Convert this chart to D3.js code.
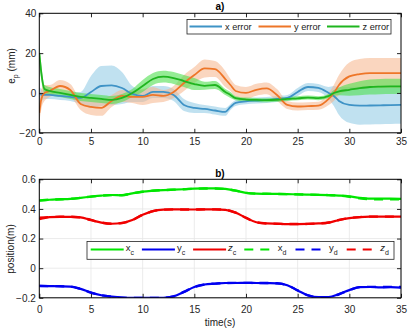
<!DOCTYPE html>
<html><head><meta charset="utf-8">
<script src="https://cdn.jsdelivr.net/npm/d3@7"></script>
<style>
body{margin:0;background:#fff;}
svg text{font-family:"Liberation Sans",Arial,sans-serif;}
</style></head>
<body><svg id="c" width="410" height="328"></svg>
<script>
// ---------- data: panel a) ----------
const timeA = [0,0.2,0.5,1,2,3,4,5,6,7,8,9,10,11,12,13,14,15,16,17,18,18.5,19,20,21,22,23,24,25,26,27,28,28.5,29,30,31,32,33,34,35];
const xErr  = [0,-1,-1,-1,-1.5,-2,-2.5,0.5,3.5,3.8,2.5,-0.5,-1.5,0.5,0.5,-1,-6,-7.5,-8,-8.8,-9.5,-7,-5,-4.2,-3.8,-3.5,-3,-2.5,0.5,3,2.5,0,-1.5,-4,-6,-6.4,-6.3,-6.2,-6.1,-6];
const xSd   = [3,3,2,2,2,2,3,8,10,10,8,4,3,3,3,3,3,2.5,2,2,2,1.5,1.5,1.5,1.5,1.5,1.5,1.5,2,2,2,3,5,7,9,9.5,9.5,9.5,9.5,9.5];
const yErr  = [-10,-3,0,1,3.5,1.5,-5.5,-7,-7.5,-4,-1.5,-2,-2,-1,-1.5,0.5,5,9,12.3,12,7,4,1,0,1.6,2.3,-1,-6,-6.8,-6.6,-6.4,-3,0,4,8.3,9.5,10,10,10,10];
const ySd   = [5,5,4,3,3,3,3,4,4,3,3,3,4,4,3,3,4,4,4.5,4,4,3,3,3,3,3,3,2,2,2,2,3,4,5,7,7.5,7.5,7.5,7.5,7.5];
const zErr  = [20,10,2,1,0,-1,-2,-2.5,-3,-3.5,-2.5,0,3.5,7,8.2,7.5,6,4.5,3.6,4,0.5,-1,-2.6,-3.3,-3.5,-3.6,-3.4,-3,-2.7,-2.3,-2.6,-1.5,0,0.8,1.6,2.4,3,3.2,3.3,3.3];
const zSd   = [5,4,2,2,2,2,2,2,2,2,2,2,3,3,3,3,3,3,2,2,1.5,1.5,1,1,1,1,1,1,1,1,1,1,1.5,2,3,3.5,3.8,3.8,3.8,3.8];
const seriesA = ["x error","y error","z error"];
const ticksAx = [0,5,10,15,20,25,30,35];
const ticksAy = [-20,0,20,40];

// ---------- data: panel b) ----------
const timeB = d3.range(0,36);
const xc = [0.455,0.462,0.465,0.468,0.475,0.483,0.49,0.494,0.492,0.505,0.517,0.523,0.527,0.53,0.533,0.537,0.539,0.539,0.535,0.524,0.508,0.503,0.502,0.501,0.5,0.498,0.497,0.495,0.493,0.49,0.485,0.475,0.47,0.47,0.47,0.468];
const yc = [-0.12,-0.121,-0.122,-0.124,-0.14,-0.165,-0.183,-0.192,-0.198,-0.2,-0.2,-0.2,-0.2,-0.19,-0.16,-0.127,-0.11,-0.105,-0.1,-0.1,-0.099,-0.1,-0.101,-0.102,-0.115,-0.15,-0.183,-0.196,-0.195,-0.175,-0.148,-0.128,-0.127,-0.13,-0.128,-0.131];
const zc = [0.33,0.345,0.347,0.347,0.343,0.325,0.308,0.3,0.305,0.325,0.36,0.385,0.395,0.397,0.396,0.396,0.397,0.397,0.394,0.375,0.34,0.31,0.302,0.3,0.298,0.298,0.299,0.302,0.308,0.325,0.338,0.345,0.348,0.348,0.348,0.348];
const xd = [0.458,0.462,0.465,0.468,0.475,0.483,0.489,0.493,0.493,0.505,0.516,0.523,0.527,0.53,0.533,0.536,0.538,0.538,0.534,0.524,0.509,0.503,0.502,0.501,0.5,0.498,0.497,0.495,0.493,0.49,0.482,0.472,0.466,0.465,0.465,0.465];
const yd = [-0.12,-0.121,-0.122,-0.124,-0.14,-0.165,-0.183,-0.193,-0.199,-0.201,-0.201,-0.201,-0.2,-0.19,-0.16,-0.127,-0.11,-0.104,-0.1,-0.099,-0.099,-0.1,-0.1,-0.102,-0.115,-0.15,-0.184,-0.197,-0.196,-0.176,-0.149,-0.128,-0.126,-0.127,-0.126,-0.127];
const zd = [0.34,0.345,0.347,0.347,0.343,0.325,0.308,0.3,0.305,0.325,0.36,0.385,0.395,0.397,0.396,0.396,0.397,0.397,0.394,0.375,0.34,0.31,0.302,0.3,0.298,0.298,0.299,0.302,0.308,0.325,0.338,0.345,0.348,0.348,0.348,0.348];
const ticksBy = [-0.2,0,0.2,0.4,0.6];

// ---------- layout ----------
const svg = d3.select("#c");
const L = 39.3, R = 401;
const A = {top:13.3, bottom:132.8};
const B = {top:179.3, bottom:297.8};
const x = d3.scaleLinear().domain([0,35]).range([L,R]);
const ya = d3.scaleLinear().domain([-20,40]).range([A.bottom,A.top]);
const yb = d3.scaleLinear().domain([-0.2,0.6]).range([B.bottom,B.top]);
const tickCol = "#262626";

function clip(id, top, bottom){
  svg.append("clipPath").attr("id",id).append("rect")
    .attr("x",L).attr("y",top).attr("width",R-L).attr("height",bottom-top);
}
clip("ca",A.top,A.bottom); clip("cb",B.top,B.bottom);

function frame(y, top, bottom, xpad, ypad, fmt, yticks, grid){
  const g = svg.append("g");
  if (grid){
    g.append("g").selectAll("line").data(ticksAx).join("line")
      .attr("x1",d=>x(d)).attr("x2",d=>x(d)).attr("y1",top).attr("y2",bottom)
      .attr("stroke","#e6e6e6").attr("stroke-width",0.8);
    g.append("g").selectAll("line").data(yticks).join("line")
      .attr("x1",L).attr("x2",R).attr("y1",d=>y(d)).attr("y2",d=>y(d))
      .attr("stroke","#e6e6e6").attr("stroke-width",0.8);
  }
  return g;
}
function axes(y, top, bottom, xpad, ypad, fmt, yticks){
  const st = s => s.call(g=>g.select(".domain").remove())
      .call(g=>g.selectAll("line").attr("stroke",tickCol))
      .call(g=>g.selectAll("text").attr("fill",tickCol).style("font-size","10px"));
  svg.append("g").attr("transform",`translate(0,${bottom})`)
    .call(d3.axisBottom(x).tickValues(ticksAx).tickSize(-4).tickPadding(xpad).tickFormat(d3.format("d"))).call(st);
  svg.append("g").attr("transform",`translate(0,${top})`)
    .call(d3.axisTop(x).tickValues(ticksAx).tickSize(-4).tickFormat("")).call(st);
  svg.append("g").attr("transform",`translate(${L},0)`)
    .call(d3.axisLeft(y).tickValues(yticks).tickSize(-4).tickPadding(ypad).tickFormat(fmt)).call(st);
  svg.append("g").attr("transform",`translate(${R},0)`)
    .call(d3.axisRight(y).tickValues(yticks).tickSize(-4).tickFormat("")).call(st);
  svg.append("rect").attr("x",L).attr("y",top).attr("width",R-L).attr("height",bottom-top)
    .attr("fill","none").attr("stroke","#000").attr("stroke-width",1);
}

// ---------- panel a ----------
frame(ya, A.top, A.bottom, 0,0,null,ticksAy,false);
const colA = ["#3f93c6","#ee7628","#1fb51f"];
const bandA = ["#8cc8e4","#f6b48a","#4fe04f"];
const bandOp = [0.55,0.55,0.6];
const meansA = [xErr,yErr,zErr], sdsA = [xSd,ySd,zSd];
const gA = svg.append("g").attr("clip-path","url(#ca)");
const area = (m,s)=>d3.area().curve(d3.curveMonotoneX)
  .x((d,i)=>x(timeA[i])).y0((d,i)=>ya(m[i]-s[i])).y1((d,i)=>ya(m[i]+s[i]))(m);
const lineA = d3.line().curve(d3.curveMonotoneX).x((d,i)=>x(timeA[i])).y(d=>ya(d));
[0,1,2].forEach(k=>{
  gA.append("path").attr("d",area(meansA[k],sdsA[k])).attr("fill",bandA[k]).attr("fill-opacity",bandOp[k]);
});
[0,1,2].forEach(k=>{
  gA.append("path").attr("d",lineA(meansA[k])).attr("fill","none")
    .attr("stroke",colA[k]).attr("stroke-width",1.8);
});
axes(ya, A.top, A.bottom, 5, 3, d3.format("d"), ticksAy);

// legend a
const lgA = svg.append("g");
lgA.append("rect").attr("x",187).attr("y",19.5).attr("width",204).attr("height",14.5)
  .attr("fill","#fff").attr("stroke","#222").attr("stroke-width",0.8);
const legX = [189.5,258.5,327];
seriesA.forEach((s,k)=>{
  lgA.append("line").attr("x1",legX[k]).attr("x2",legX[k]+32.5).attr("y1",26.5).attr("y2",26.5)
    .attr("stroke",colA[k]).attr("stroke-width",1.8);
  lgA.append("text").attr("x",legX[k]+35.5).attr("y",29.8).text(s)
    .style("font-size","9.2px").attr("fill","#222");
});
svg.append("text").attr("x",220).attr("y",10).attr("text-anchor","middle")
  .style("font-size","10px").style("font-weight","bold").text("a)");
const ylabA = svg.append("text").attr("transform","translate(14.5,66) rotate(-90)")
  .attr("text-anchor","middle").style("font-size","10px").attr("fill","#222");
ylabA.append("tspan").text("e");
ylabA.append("tspan").attr("dy",3).style("font-size","7px").text("p");
ylabA.append("tspan").attr("dy",-3).text(" (mm)");

// ---------- panel b ----------
frame(yb, B.top, B.bottom, 0,0,null,ticksBy,true);
const colB = ["#00e600","#0000f0","#f00000"];
const gB = svg.append("g").attr("clip-path","url(#cb)");
const lineB = d3.line().curve(d3.curveMonotoneX).x((d,i)=>x(timeB[i])).y(d=>yb(d));
[xd,yd,zd].forEach((s,k)=>{
  gB.append("path").attr("d",lineB(s)).attr("fill","none").attr("stroke",colB[k])
    .attr("stroke-width",2.4).attr("stroke-dasharray","9,7");
});
[xc,yc,zc].forEach((s,k)=>{
  gB.append("path").attr("d",lineB(s)).attr("fill","none").attr("stroke",colB[k])
    .attr("stroke-width",2.2);
});
axes(yb, B.top, B.bottom, 8, 3.5, d3.format(".1f"), ticksBy);
svg.selectAll("text").filter(function(){return this.textContent==="0.0";}).text("0");

// legend b
const legB = [["x","c",0,false],["y","c",1,false],["z","c",2,false],["x","d",0,true],["y","d",1,true],["z","d",2,true]];
const lgB = svg.append("g");
lgB.append("rect").attr("x",87).attr("y",241.5).attr("width",307).attr("height",17.8)
  .attr("fill","#fff").attr("stroke","#222").attr("stroke-width",0.8);
legB.forEach((e,i)=>{
  const x0 = 90.7 + i*51.2;
  const len = e[3] ? 25 : 33;
  lgB.append("line").attr("x1",x0).attr("x2",x0+len).attr("y1",249.5).attr("y2",249.5)
    .attr("stroke",colB[e[2]]).attr("stroke-width",2.2)
    .attr("stroke-dasharray", e[3] ? "9,7" : null);
  const t = lgB.append("text").attr("x",x0 + (e[3]?33.5:35)).attr("y",251)
    .style("font-size","9.5px").attr("fill","#222");
  t.append("tspan").text(e[0]).style("font-style", e[0]==="z" ? "italic" : "normal");
  t.append("tspan").attr("dy",3.5).style("font-size","7px").text(e[1]);
});
svg.append("text").attr("x",220).attr("y",176.5).attr("text-anchor","middle")
  .style("font-size","10px").style("font-weight","bold").text("b)");
svg.append("text").attr("transform","translate(13.5,249) rotate(-90)")
  .attr("text-anchor","middle").style("font-size","10px").attr("fill","#222").text("position(m)");
svg.append("text").attr("x",220).attr("y",325.5).attr("text-anchor","middle")
  .style("font-size","10px").attr("fill","#222").text("time(s)");
</script></body></html>
